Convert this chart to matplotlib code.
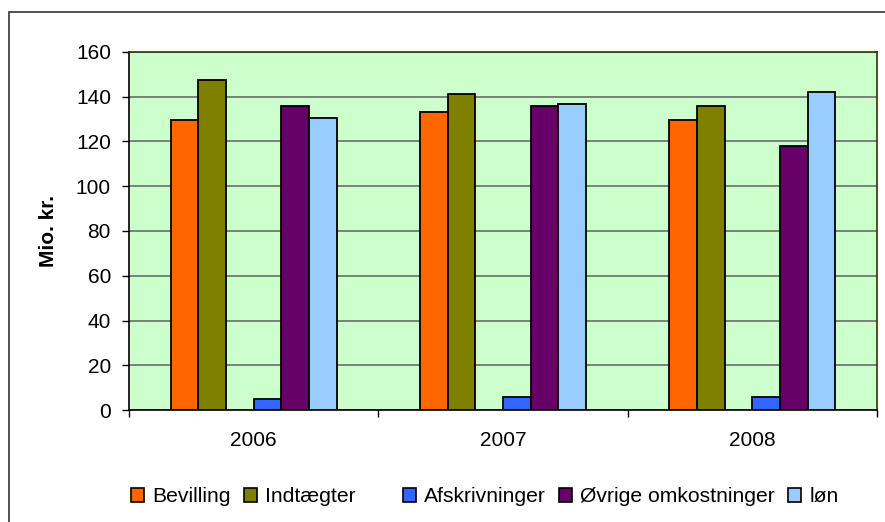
import numpy as np
import matplotlib
matplotlib.use('Agg')
import matplotlib.pyplot as plt
from matplotlib.patches import Rectangle, Patch

plt.rcParams['font.family'] = ['Liberation Sans', 'DejaVu Sans']

years = ['2006', '2007', '2008']
bevilling = [129.4, 133.2, 129.4]
indtaegter = [147.3, 141.2, 135.7]
afskrivninger = [5.0, 6.0, 6.0]
oevrige = [135.7, 135.7, 117.8]
loen = [130.3, 136.7, 142.0]

names = ['Bevilling', 'Indtægter', 'Afskrivninger', 'Øvrige omkostninger', 'løn']
colors = ['#FF6600', '#808000', '#3366FF', '#660066', '#99CCFF']
series = [bevilling, indtaegter, afskrivninger, oevrige, loen]
slots = [0, 1, 3, 4, 5]  # slot 2 is an empty series in the original

fig = plt.figure(figsize=(8.85, 5.22), dpi=100)
ax = fig.add_axes([129/885, 1 - 410/522, (877 - 129)/885, (410 - 52)/522])
ax.set_facecolor('#CCFFCC')

bw = 0.111
x = np.arange(len(years))
for s, vals, c in zip(slots, series, colors):
    ax.bar(x + (s - 2.5) * bw, vals, bw, color=c, edgecolor='black', linewidth=1.3, zorder=3)

ax.set_xlim(-0.5, 2.5)
ax.set_ylim(0, 160)
ax.set_yticks(range(0, 161, 20))
ax.yaxis.grid(True, color='#5c665c', linewidth=1.1, zorder=1)
ax.set_axisbelow(True)

ax.set_xticks(x)
ax.set_xticklabels(years)
ax.set_xticks([-0.5, 0.5, 1.5, 2.5], minor=True)
ax.tick_params(axis='x', which='major', length=0, pad=15, labelsize=15)
ax.tick_params(axis='x', which='minor', length=5, width=1, color='black')
ax.tick_params(axis='y', length=5, width=1, pad=8, labelsize=15)

ax.spines['left'].set_color('black')
ax.spines['bottom'].set_color('black')
ax.spines['top'].set_color('#333300')
ax.spines['right'].set_color('#333300')
for sp in ax.spines.values():
    sp.set_linewidth(1.2)

fig.text(49/885, 1 - 231/522, 'Mio. kr.', rotation=90, ha='center', va='center',
         fontsize=15, fontweight='bold')

handles = [Patch(facecolor=c, edgecolor='black', linewidth=1.2) for c in colors]
labels = list(names)
handles.insert(2, Patch(facecolor='none', edgecolor='none'))
labels.insert(2, '')
fig.legend(handles, labels, loc='center', bbox_to_anchor=(485/885, 25/522),
           ncol=6, frameon=False, fontsize=15.2, handlelength=0.6, handleheight=0.6,
           handletextpad=0.4, columnspacing=0.62, borderpad=0)

fig.patches.append(Rectangle((9/885, -0.1), 1.2, 1.1 - 12/522, transform=fig.transFigure,
                             fill=False, edgecolor='#333333', linewidth=1.2, clip_on=False))

fig.savefig('out.png', dpi=100)
